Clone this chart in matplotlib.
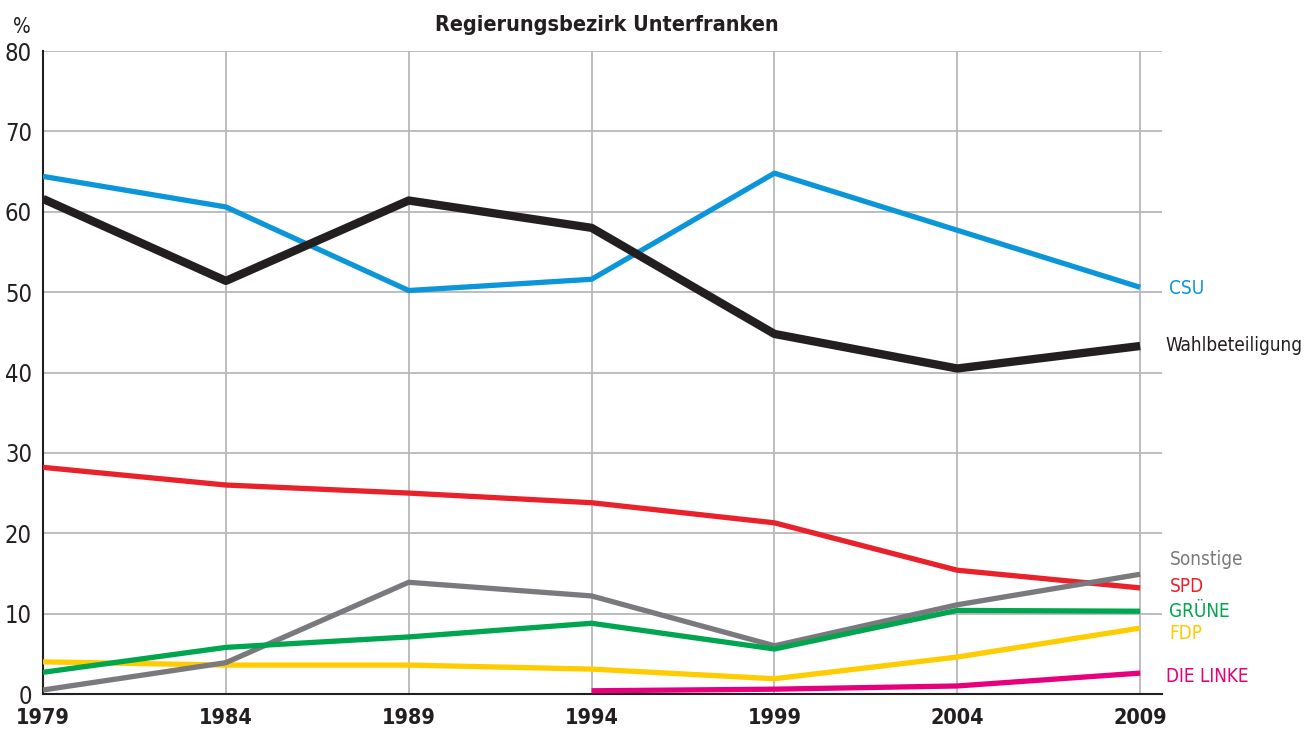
import matplotlib
matplotlib.use("Agg")
import matplotlib.pyplot as plt
from matplotlib import font_manager

# look for a condensed sans face if one is installed
cond = None
for f in font_manager.fontManager.ttflist:
    st = str(f.stretch).lower()
    if ("condensed" in f.name.lower() or "narrow" in f.name.lower() or st in ("condensed", "semi-condensed", "extra-condensed") or (isinstance(f.stretch, int) and f.stretch < 500)):
        if f.name in ("Roboto Condensed", "Liberation Sans Narrow", "Open Sans Condensed", "Noto Sans Condensed", "DejaVu Sans", "Roboto", "Open Sans", "Noto Sans"):
            cond = f
            break

years = [1979, 1984, 1989, 1994, 1999, 2004, 2009]
csu = [64.4, 60.6, 50.2, 51.6, 64.8, 57.7, 50.6]
wahlbeteiligung = [61.6, 51.4, 61.4, 58.0, 44.8, 40.5, 43.3]
spd = [28.2, 26.0, 25.0, 23.8, 21.3, 15.4, 13.2]
sonstige = [0.5, 3.9, 13.9, 12.2, 6.0, 11.1, 14.9]
gruene = [2.7, 5.8, 7.1, 8.8, 5.6, 10.4, 10.3]
fdp = [4.0, 3.6, 3.6, 3.1, 1.9, 4.6, 8.2]
linke_years = [1994, 1999, 2004, 2009]
linke = [0.4, 0.6, 1.0, 2.6]

if cond is not None:
    plt.rcParams['font.family'] = [cond.name, 'DejaVu Sans']
    plt.rcParams['font.stretch'] = cond.stretch
    LBL = 13.6
    TICK = 17
    XTICK = 15.5
    TITLE = 15.5
else:
    plt.rcParams['font.family'] = ['Liberation Sans', 'DejaVu Sans']
    LBL = 13.5
    TICK = 16.5
    XTICK = 15.5
    TITLE = 15.5

fig = plt.figure(figsize=(13.11, 7.33), dpi=100)
ax = fig.add_axes([0.0328, 0.0532, 0.8536, 0.8772])

C_CSU = "#0a96d8"
C_WB = "#231f20"
C_SPD = "#e8212a"
C_SON = "#7a797e"
C_GR = "#00a64f"
C_FDP = "#ffcc00"
C_LK = "#e6007e"

ax.plot(years, fdp, color=C_FDP, lw=3.8, solid_capstyle='butt', zorder=3)
ax.plot(linke_years, linke, color=C_LK, lw=3.8, solid_capstyle='butt', zorder=3)
ax.plot(years, gruene, color=C_GR, lw=3.8, solid_capstyle='butt', zorder=4)
ax.plot(years, sonstige, color=C_SON, lw=3.8, solid_capstyle='butt', zorder=3.5)
ax.plot(years, spd, color=C_SPD, lw=3.8, solid_capstyle='butt', zorder=3)
ax.plot(years, csu, color=C_CSU, lw=3.8, solid_capstyle='butt', zorder=3)
ax.plot(years, wahlbeteiligung, color=C_WB, lw=6.0, solid_capstyle='butt', zorder=5)

ax.set_xlim(1979, 2009.6)
ax.set_ylim(0, 80)
ax.set_xticks(years)
ax.set_xticklabels([str(y) for y in years], fontsize=XTICK, fontweight='bold', color="#231f20")
ax.set_yticks(range(0, 81, 10))
ax.set_yticklabels([str(v) for v in range(0, 81, 10)], fontsize=TICK, color="#231f20")
ax.tick_params(axis='both', length=0)
ax.tick_params(axis='x', pad=10)
ax.tick_params(axis='y', pad=8)
ax.grid(True, color="#b8b8bb", lw=1.3, zorder=0)
ax.set_axisbelow(True)
for s in ['top', 'right']:
    ax.spines[s].set_visible(False)
ax.spines['left'].set_color("#231f20")
ax.spines['bottom'].set_color("#231f20")
ax.spines['left'].set_linewidth(1.5)
ax.spines['bottom'].set_linewidth(1.5)

fig.text(0.0168, 0.95, "%", fontsize=15, color="#231f20", ha='center', va='bottom')
fig.text(0.4625, 0.98, "Regierungsbezirk Unterfranken", fontsize=TITLE, fontweight='bold',
         color="#231f20", ha='center', va='top')

lbl_x = 2009.6 + 0.2
ax.text(lbl_x, 50.5, "CSU", color=C_CSU, fontsize=LBL, va='center', ha='left', clip_on=False)
ax.text(lbl_x - 0.1, 43.4, "Wahlbeteiligung", color=C_WB, fontsize=LBL, va='center', ha='left', clip_on=False)
ax.text(lbl_x, 16.7, "Sonstige", color=C_SON, fontsize=LBL, va='center', ha='left', clip_on=False)
ax.text(lbl_x, 13.4, "SPD", color=C_SPD, fontsize=LBL, va='center', ha='left', clip_on=False)
ax.text(lbl_x, 10.3, "GRÜNE", color=C_GR, fontsize=LBL, va='center', ha='left', clip_on=False)
ax.text(lbl_x, 7.5, "FDP", color=C_FDP, fontsize=LBL, va='center', ha='left', clip_on=False)
ax.text(lbl_x - 0.1, 2.2, "DIE LINKE", color=C_LK, fontsize=LBL, va='center', ha='left', clip_on=False)

fig.savefig("out.png", dpi=100)
